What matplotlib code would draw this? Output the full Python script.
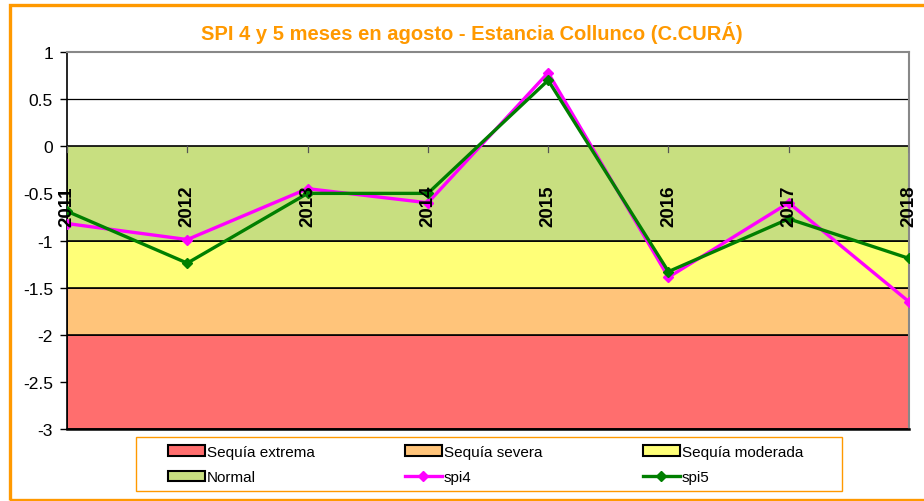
import matplotlib
matplotlib.use("Agg")
import matplotlib.pyplot as plt
from matplotlib.patches import Patch, Rectangle
from matplotlib.lines import Line2D

plt.rcParams['font.family'] = ['Liberation Sans', 'DejaVu Sans']

years = ["2011", "2012", "2013", "2014", "2015", "2016", "2017", "2018"]
spi4 = [-0.82, -0.99, -0.45, -0.60, 0.78, -1.39, -0.60, -1.65]
spi5 = [-0.69, -1.24, -0.50, -0.50, 0.70, -1.33, -0.77, -1.19]

band_names = ["Sequía extrema", "Sequía severa", "Sequía moderada", "Normal"]
band_low = [-3.0, -2.0, -1.5, -1.0]
band_high = [-2.0, -1.5, -1.0, 0.0]
band_colors = ["#FF6E6E", "#FFC47A", "#FFFF78", "#C8DF80"]

title = "SPI 4 y 5 meses en agosto - Estancia Collunco (C.CURÁ)"
orange = "#FF9900"
W, H = 924, 502

fig = plt.figure(figsize=(9.24, 5.02), dpi=100)
# outer chart border (right side runs off the image)
fig.patches.append(Rectangle((10/W, 1.5/H), 1.2, 1 - 7/H, transform=fig.transFigure,
                             fill=False, edgecolor=orange, linewidth=2.4, zorder=0))

ax = fig.add_axes([67/W, 1 - 430/H, (909 - 67)/W, (430 - 53)/H])
x = list(range(len(years)))
ax.set_xlim(0, len(years) - 1)
ax.set_ylim(-3, 1)

for lo, hi, c in zip(band_low, band_high, band_colors):
    ax.axhspan(lo, hi, facecolor=c, edgecolor="black", linewidth=1.2, zorder=1)
ax.axhline(0.5, color="black", linewidth=0.9, zorder=1)

ax.plot(x, spi4, color="#FF00FF", linewidth=2.4, marker="D", markersize=5, zorder=4)
ax.plot(x, spi5, color="#007F00", linewidth=2.4, marker="D", markersize=5, zorder=5)

for xi, lab in zip(x, years):
    ax.text(xi, -0.626, lab, rotation=90, ha="center", va="center",
            fontsize=13.5, fontweight="bold", zorder=6)
    ax.plot([xi, xi], [0, -0.06], color="#555555", linewidth=0.9, zorder=3)

ax.set_yticks([1, 0.5, 0, -0.5, -1, -1.5, -2, -2.5, -3])
ax.set_yticklabels(["1", "0.5", "0", "-0.5", "-1", "-1.5", "-2", "-2.5", "-3"])
ax.tick_params(axis="y", labelsize=12.5, length=5, width=1, pad=5)
ax.set_xticks([])
for s in ["top", "right"]:
    ax.spines[s].set_color("#888888")
    ax.spines[s].set_linewidth(1.5)
ax.spines["left"].set_linewidth(1.2)
ax.spines["bottom"].set_linewidth(1.8)

fig.text(472/W, 1 - 33/H, title, ha="center", va="center", color=orange,
         fontsize=14.5, fontweight="bold")

# legend frame
fig.patches.append(Rectangle((136/W, 1 - 492/H), (842 - 136)/W, (492 - 438)/H,
                             transform=fig.transFigure, fill=False,
                             edgecolor=orange, linewidth=1.0, zorder=1))

h_ext = Patch(facecolor=band_colors[0], edgecolor="black", linewidth=1.5)
h_sev = Patch(facecolor=band_colors[1], edgecolor="black", linewidth=1.5)
h_mod = Patch(facecolor=band_colors[2], edgecolor="black", linewidth=1.5)
h_nor = Patch(facecolor=band_colors[3], edgecolor="black", linewidth=1.5)
h_s4 = Line2D([], [], color="#FF00FF", linewidth=2.4, marker="D", markersize=5)
h_s5 = Line2D([], [], color="#007F00", linewidth=2.4, marker="D", markersize=5)

columns = [([h_ext, h_nor], [band_names[0], band_names[3]], 168),
           ([h_sev, h_s4], [band_names[1], "spi4"], 405),
           ([h_mod, h_s5], [band_names[2], "spi5"], 643)]
for hs, ls, xpos in columns:
    fig.legend(hs, ls, loc="upper left", bbox_to_anchor=(xpos/W, 1 - 446/H),
               fontsize=11, frameon=False, handlelength=2.4, handleheight=0.7,
               handletextpad=0.15, borderpad=0, borderaxespad=0, labelspacing=0.75)

fig.savefig("out.png", dpi=100)
